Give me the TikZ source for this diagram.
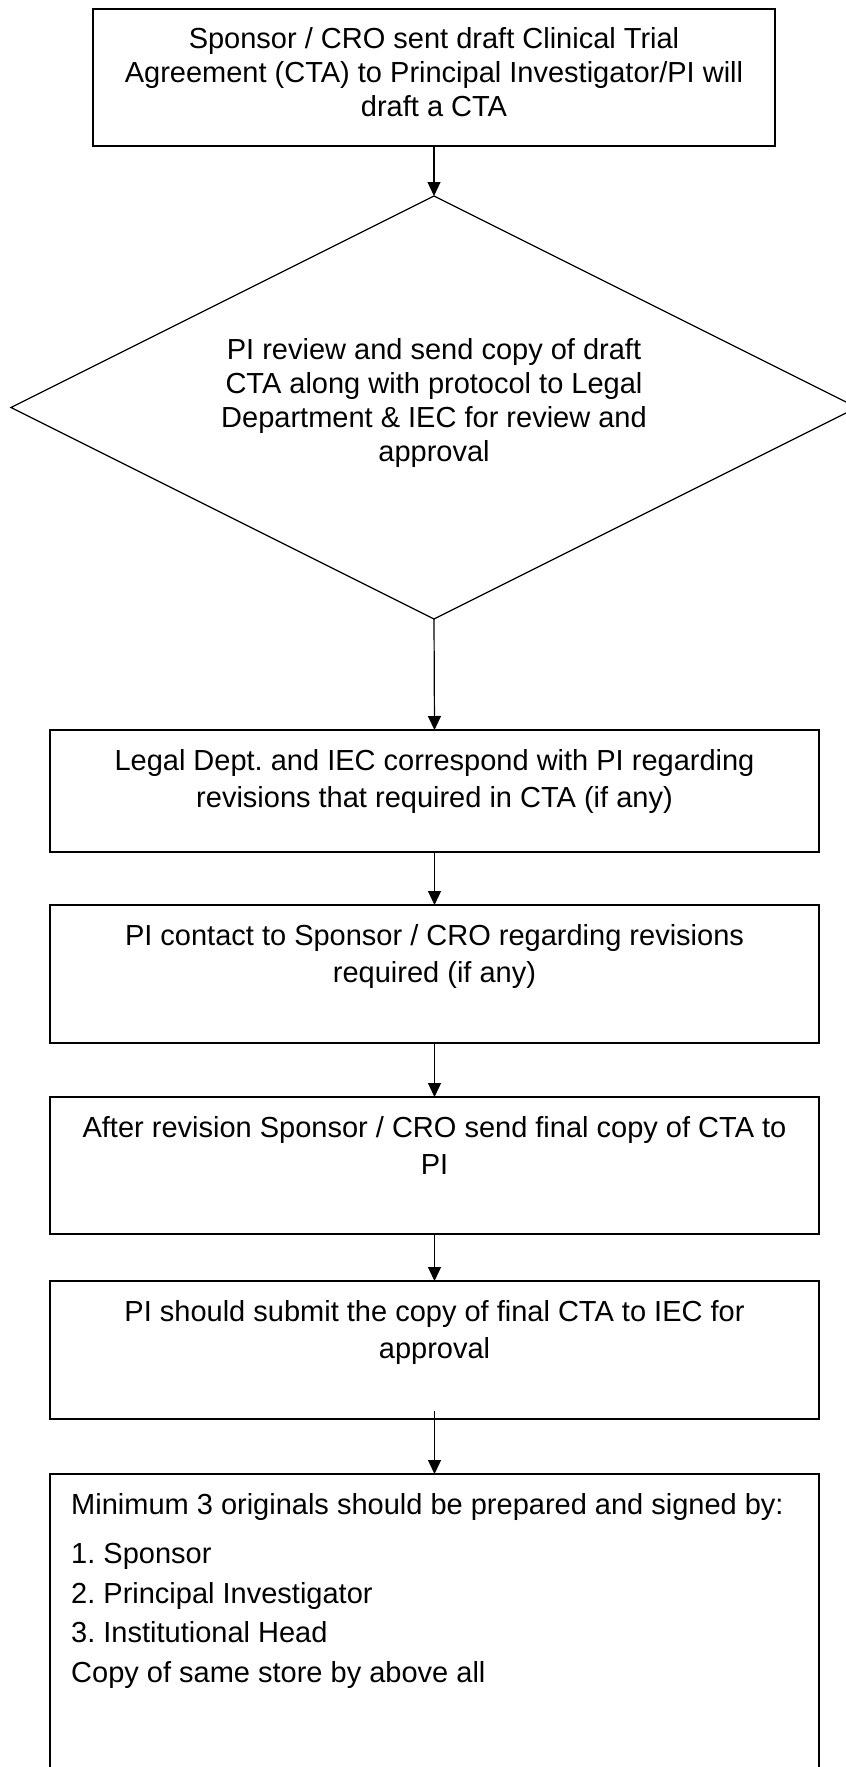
\documentclass[tikz,border=0pt]{standalone}
\usepackage{fontspec}
\setmainfont{Liberation Sans}
\usetikzlibrary{arrows.meta,shapes.geometric}
\frenchspacing

\tikzset{
  frame/.style={draw, line width=1.6pt, inner sep=0pt, outer sep=0pt, anchor=north},
  blurb/.style={anchor=north, inner sep=0pt, align=center, font=\fontsize{29}{37}\selectfont},
  flow/.style={-{Triangle[length=14pt,width=13pt]}, line width=1.2pt},
}

\begin{document}
\begin{tikzpicture}[x=1pt,y=-1pt]
                \useasboundingbox (0,0) rectangle (846,1767);

                % Frames of the steps
                \node[frame, minimum width=682pt, minimum height=137pt] (draft) at (434,9) {};
                \node[draw, diamond, line width=1.2pt, inner sep=0pt, outer sep=0pt,
                      minimum width=846pt, minimum height=423pt] (review) at (434,407.5) {};
                \node[frame, minimum width=769pt, minimum height=122pt] (legal) at (434.5,730) {};
                \node[frame, minimum width=769pt, minimum height=138pt] (contact) at (434.5,905) {};
                \node[frame, minimum width=769pt, minimum height=137pt] (final) at (434.5,1097) {};
                \node[frame, minimum width=769pt, minimum height=138pt] (submit) at (434.5,1281) {};
                \node[frame, minimum width=769pt, minimum height=330pt] (sign) at (434.5,1474) {};

                % Texts of the steps
                \node[blurb, font=\fontsize{29}{34}\selectfont] (drafttext) at ([yshift=-18pt]draft.north)
                    {Sponsor / CRO sent draft Clinical Trial\\
                     Agreement (CTA) to Principal Investigator/PI will\\
                     draft a CTA};
                \node[blurb, anchor=center, font=\fontsize{29}{34}\selectfont] (reviewtext) at ([yshift=5pt]review.center)
                    {PI review and send copy of draft\\
                     CTA along with protocol to Legal\\
                     Department \& IEC for review and\\
                     approval};
                \node[blurb] (legaltext) at ([yshift=-19pt]legal.north)
                    {Legal Dept. and IEC correspond with PI regarding\\
                     revisions that required in CTA (if any)};
                \node[blurb] (contacttext) at ([yshift=-19pt]contact.north)
                    {PI contact to Sponsor / CRO regarding revisions\\
                     required (if any)};
                \node[blurb] (finaltext) at ([yshift=-19pt]final.north)
                    {After revision Sponsor / CRO send final copy of CTA to\\
                     PI};
                \node[blurb] (submittext) at ([yshift=-19pt]submit.north)
                    {PI should submit the copy of final CTA to IEC for\\
                     approval};
                \node[blurb, anchor=north west, align=left, font=\fontsize{29}{39.5}\selectfont] (signtext) at (71,1493)
                    {Minimum 3 originals should be prepared and signed by:\\[10pt]
                     1. Sponsor\\
                     2. Principal Investigator\\
                     3. Institutional Head\\
                     Copy of same store by above all};

                % Arrows between the steps
                \draw[flow] (draft.south) -- (review.north);
                \draw[flow] (review.south) -- (legal.north);
                \draw[flow] (legal.south) -- (contact.north);
                \draw[flow] (contact.south) -- (final.north);
                \draw[flow] (final.south) -- (submit.north);
                \draw[flow] ([yshift=8pt]submit.south) -- (sign.north);
            \end{tikzpicture}
\end{document}
